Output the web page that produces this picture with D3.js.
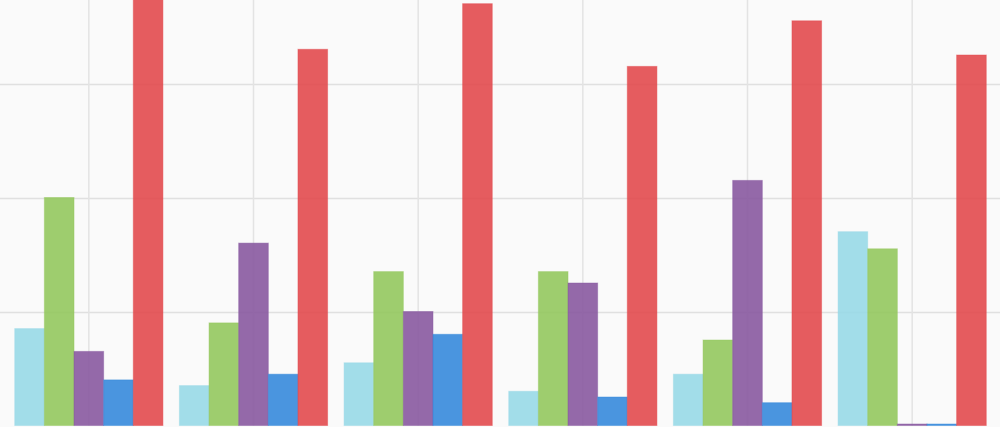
<!DOCTYPE html>
<html>
<head>
<meta charset="utf-8">
<script src="https://cdn.jsdelivr.net/npm/d3@7"></script>
<style>
  html, body { margin: 0; padding: 0; background: #fafafa; overflow: hidden; }
  svg { display: block; }
</style>
</head>
<body>
<div id="chart"></div>
<script>
// Categories and series (units: one gridline = 100)
const categories = ["A", "B", "C", "D", "E", "F"];
const seriesNames = ["s1", "s2", "s3", "s4", "s5"];
const s1 = [85, 35, 55, 30, 45, 170];
const s2 = [200, 90, 135, 135, 75, 155];
const s3 = [65, 160, 100, 125, 215, 0];
const s4 = [40, 45, 80, 25, 20, 0];
const s5 = [390, 330, 370, 315, 355, 325];
const gridTicks = [100, 200, 300];
const colors = ["#98d9e7", "#94c85e", "#8859a0", "#368adc", "#e24a4e"];

const series = [s1, s2, s3, s4, s5];
const width = 1000, height = 427;

const svg = d3.select("#chart")
  .append("svg")
  .attr("width", width)
  .attr("height", height);

svg.append("rect")
  .attr("width", width)
  .attr("height", height)
  .attr("fill", "#fafafa");

const x0 = d3.scaleBand()
  .domain(categories)
  .range([6.5, 994.5])
  .paddingInner(0.1)
  .paddingOuter(0.05);

const x1 = d3.scaleBand()
  .domain(seriesNames)
  .range([0, x0.bandwidth()]);

const y = d3.scaleLinear()
  .domain([0, 300])
  .range([425.5, 83.5]);

// Grid
const grid = svg.append("g").attr("class", "grid");
grid.selectAll(".hgrid")
  .data(gridTicks)
  .enter()
  .append("line")
  .attr("class", "hgrid")
  .attr("x1", 0)
  .attr("x2", width)
  .attr("y1", d => Math.round(y(d)) + 0.5)
  .attr("y2", d => Math.round(y(d)) + 0.5)
  .style("stroke", "#e0e0e0")
  .style("stroke-width", 1.5);

grid.selectAll(".vgrid")
  .data(categories)
  .enter()
  .append("line")
  .attr("class", "vgrid")
  .attr("x1", d => x0(d) + x0.bandwidth() / 2)
  .attr("x2", d => x0(d) + x0.bandwidth() / 2)
  .attr("y1", 0)
  .attr("y2", y(0))
  .style("stroke", "#e3e3e3")
  .style("stroke-width", 1.5);

// Bars
const groups = svg.append("g")
  .selectAll(".group")
  .data(categories)
  .enter()
  .append("g")
  .attr("class", "group")
  .attr("transform", d => `translate(${x0(d)},0)`);

groups.selectAll("rect")
  .data((d, i) => seriesNames.map((s, j) => ({ s, j, v: series[j][i] })))
  .enter()
  .append("rect")
  .attr("x", d => x1(d.s))
  .attr("width", x1.bandwidth())
  .attr("y", d => Math.min(y(d.v), y(0) - 1.5))
  .attr("height", d => Math.max(y(0) - y(d.v), 1.5))
  .style("fill", d => colors[d.j])
  .style("fill-opacity", 0.9)
  .style("stroke", d => colors[d.j])
  .style("stroke-opacity", 0.45)
  .style("stroke-width", 1);
</script>
</body>
</html>
